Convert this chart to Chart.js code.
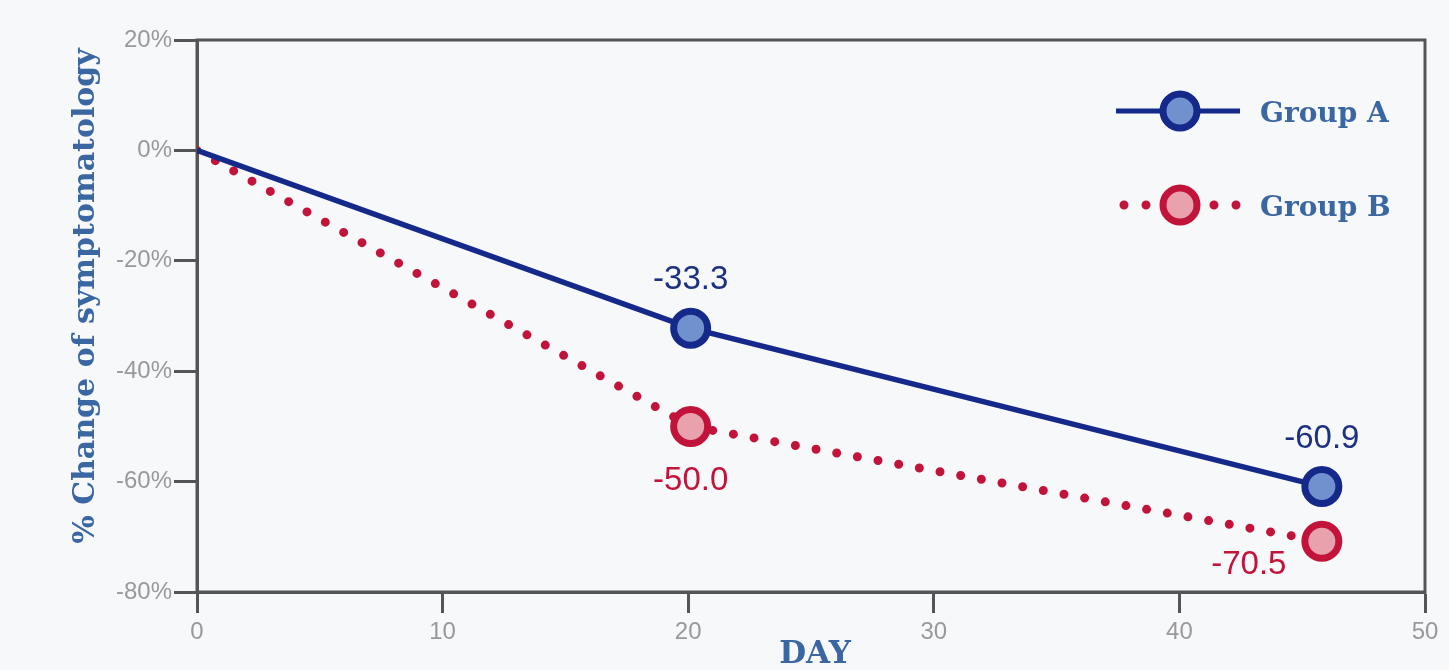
<!DOCTYPE html>
<html>
<head>
<meta charset="utf-8">
<script src="https://cdn.jsdelivr.net/npm/chart.js@4"></script>
<style>
  html, body { margin: 0; padding: 0; background: #f7f8fa; }
  #wrap { width: 1449px; height: 670px; }
</style>
</head>
<body>
<div id="wrap"><canvas id="chart"></canvas></div>
<script>
// values
const days = [0, 20.1, 45.8]
const groupA = [0, -32.2, -60.9]
const groupB = [0, -50.0, -70.8]
const labelsA = ["", "-33.3", "-60.9"]
const labelsB = ["", "-50.0", "-70.5"]
const yTicks = [20, 0, -20, -40, -60, -80]
const xTicks = [0, 10, 20, 30, 40, 50]

const NAVY = "#15298a"
const NAVY_FILL = "#7091cd"
const RED = "#c2143a"
const RED_FILL = "#e9a2ad"
const TITLE_BLUE = "#3a66a2"
const FRAME = "#555"
const TICK_FONT = { size: 24, family: "'Liberation Sans', Arial, sans-serif" }

const pts = (xs, ys) => xs.map((x, i) => ({ x: x, y: ys[i] }))

const decor = {
  id: "decor",
  beforeDraw(c) {
    const ctx = c.ctx
    ctx.save()
    ctx.fillStyle = "#f7f8fa"
    ctx.fillRect(0, 0, c.width, c.height)
    ctx.restore()
  },
  beforeDatasetsDraw(c) {
    const a = c.chartArea, ctx = c.ctx
    ctx.save()
    ctx.strokeStyle = FRAME
    ctx.lineWidth = 3
    ctx.strokeRect(a.left, a.top, a.right - a.left, a.bottom - a.top)
    ctx.restore()
  },
  afterDatasetsDraw(c) {
    const ctx = c.ctx
    const xs = c.scales.x, ys = c.scales.y
    ctx.save()
    // value labels
    ctx.font = "33px 'Liberation Sans', Arial, sans-serif"
    ctx.textAlign = "center"
    ctx.textBaseline = "middle"
    ctx.fillStyle = "#1c3180"
    labelsA.forEach((t, i) => {
      if (!t) return
      ctx.fillText(t, xs.getPixelForValue(days[i]), ys.getPixelForValue(groupA[i]) - 48)
    })
    ctx.fillStyle = RED
    labelsB.forEach((t, i) => {
      if (!t) return
      let dx = 0, dy = 55
      if (i === 2) { dx = -73; dy = 24 }
      ctx.fillText(t, xs.getPixelForValue(days[i]) + dx, ys.getPixelForValue(groupB[i]) + dy)
    })

    // legend
    const lx = 1180
    const rows = [
      { y: 111, name: "Group A", line: NAVY, fill: NAVY_FILL, dotted: false },
      { y: 205, name: "Group B", line: RED, fill: RED_FILL, dotted: true }
    ]
    rows.forEach(r => {
      ctx.strokeStyle = r.line
      if (r.dotted) {
        ctx.lineWidth = 9
        ctx.lineCap = "round"
        ctx.setLineDash([0, 22])
        ctx.beginPath(); ctx.moveTo(1124, r.y); ctx.lineTo(1158, r.y); ctx.stroke()
        ctx.beginPath(); ctx.moveTo(1214, r.y); ctx.lineTo(1240, r.y); ctx.stroke()
        ctx.setLineDash([])
      } else {
        ctx.lineWidth = 5
        ctx.lineCap = "butt"
        ctx.beginPath(); ctx.moveTo(1116, r.y); ctx.lineTo(1240, r.y); ctx.stroke()
      }
      ctx.lineWidth = 7
      ctx.fillStyle = r.fill
      ctx.beginPath(); ctx.arc(lx, r.y, 17, 0, Math.PI * 2); ctx.fill(); ctx.stroke()
      ctx.fillStyle = TITLE_BLUE
      ctx.font = "bold 28px 'DejaVu Serif', serif"
      ctx.textAlign = "left"
      ctx.fillText(r.name, 1260, r.y + 4)
    })

    // axis titles
    ctx.fillStyle = TITLE_BLUE
    ctx.font = "bold 31px 'DejaVu Serif', serif"
    ctx.textAlign = "center"
    ctx.textBaseline = "middle"
    ctx.fillText("DAY", 815, 655)
    ctx.font = "bold 30px 'DejaVu Serif', serif"
    ctx.translate(86, 296)
    ctx.rotate(-Math.PI / 2)
    ctx.fillText("% Change of symptomatology", 0, 0)
    ctx.restore()
  }
}

new Chart(document.getElementById("chart"), {
  type: "line",
  data: {
    datasets: [
      {
        label: "Group A",
        data: pts(days, groupA),
        borderColor: NAVY,
        borderWidth: 5.5,
        pointBackgroundColor: NAVY_FILL,
        pointBorderColor: NAVY,
        pointBorderWidth: 7,
        pointRadius: [0, 17, 17],
        tension: 0
      },
      {
        label: "Group B",
        data: pts(days, groupB),
        borderColor: RED,
        borderWidth: 9,
        borderDash: [0, 21],
        borderCapStyle: "round",
        pointBackgroundColor: RED_FILL,
        pointBorderColor: RED,
        pointBorderWidth: 7,
        pointRadius: [0, 17, 17],
        tension: 0
      }
    ]
  },
  options: {
    responsive: true,
    maintainAspectRatio: false,
    animation: false,
    layout: { padding: { top: 40, right: 24, left: 0, bottom: 0 } },
    plugins: { legend: { display: false }, tooltip: { enabled: false } },
    scales: {
      x: {
        type: "linear",
        min: 0, max: 50,
        afterBuildTicks: s => { s.ticks = xTicks.map(v => ({ value: v })) },
        afterFit: s => { s.height = 78 },
        grid: { drawOnChartArea: false, tickLength: 21, tickWidth: 3, tickColor: FRAME },
        border: { display: true, color: FRAME, width: 3 },
        ticks: { color: "#999", padding: 5, font: TICK_FONT }
      },
      y: {
        min: -80, max: 20,
        afterBuildTicks: s => { s.ticks = yTicks.map(v => ({ value: v })) },
        afterFit: s => { s.width = 197 },
        grid: { drawOnChartArea: false, tickLength: 23, tickWidth: 3, tickColor: FRAME },
        border: { display: true, color: FRAME, width: 3 },
        ticks: { color: "#999", padding: 2, font: TICK_FONT, callback: v => v + "%" }
      }
    }
  },
  plugins: [decor]
})
</script>
</body>
</html>
